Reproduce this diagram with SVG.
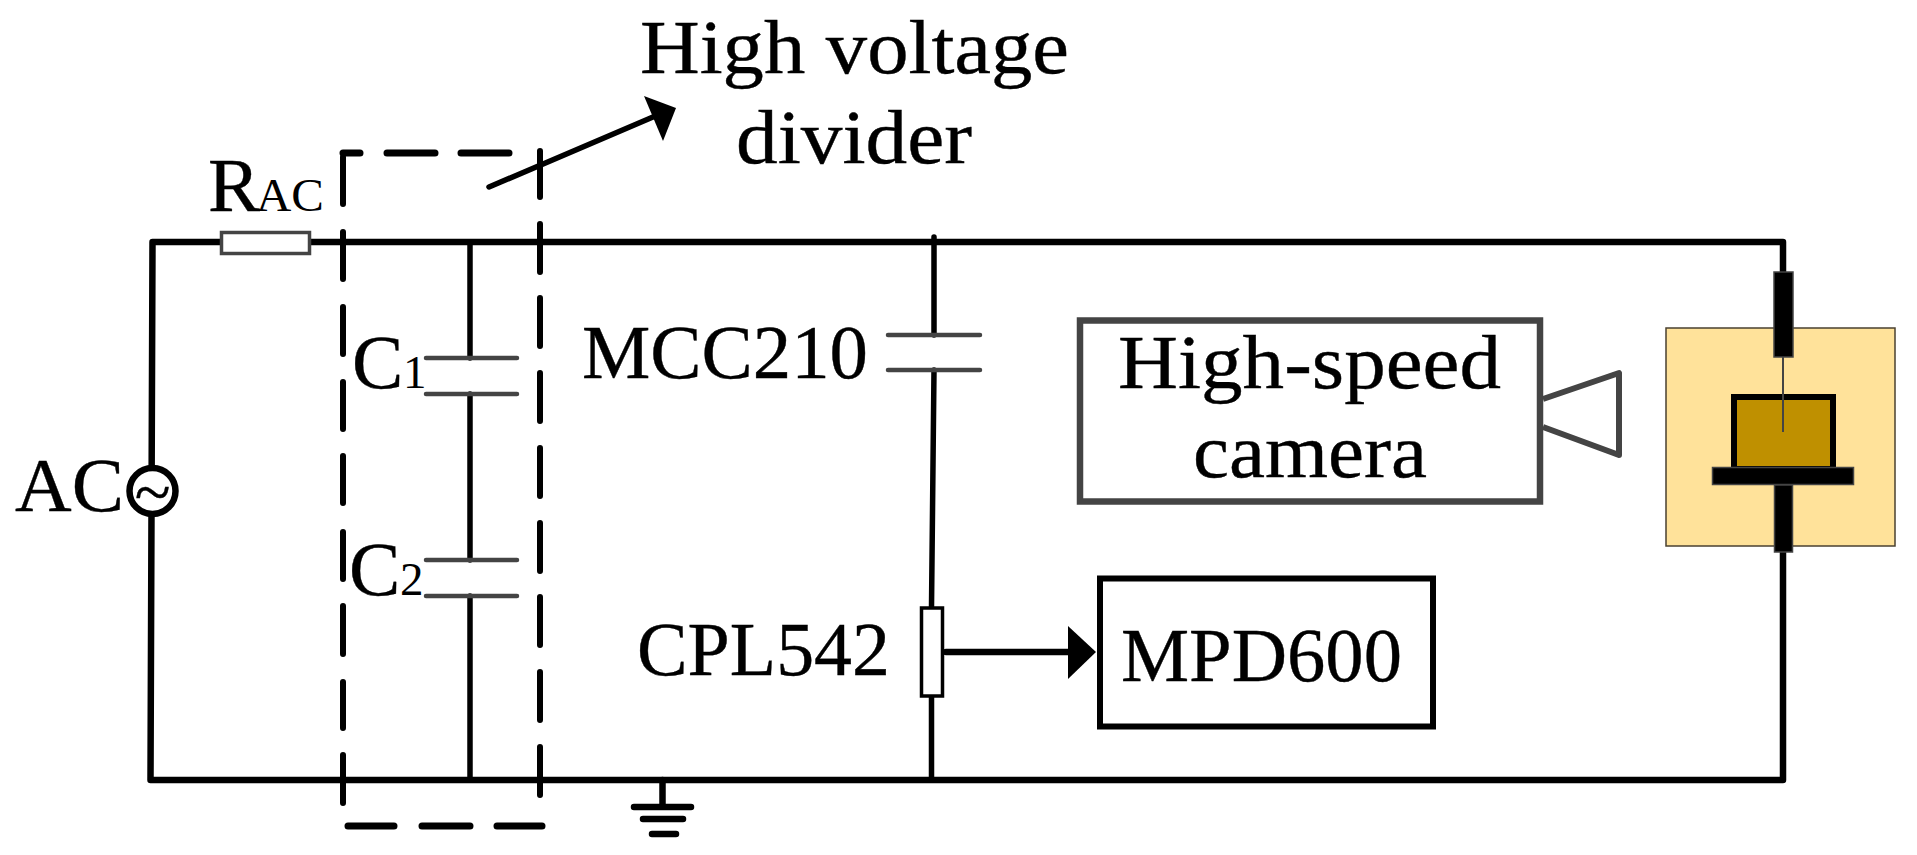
<svg xmlns="http://www.w3.org/2000/svg" width="1917" height="855" viewBox="0 0 1917 855">
<style>
text{font-family:"Liberation Serif","Times New Roman",serif;fill:#000;stroke:#000;stroke-width:.4;font-size:77px}
.w{fill:none;stroke:#000;stroke-width:6.5;stroke-linecap:round;stroke-linejoin:round}
.t{fill:none;stroke:#000;stroke-width:5.5;stroke-linecap:round}
.d{fill:none;stroke:#000;stroke-width:6;stroke-linecap:round}
.h{fill:none;stroke:#000;stroke-width:7;stroke-linecap:round}
.p{fill:none;stroke:#444;stroke-width:4.5;stroke-linecap:round}
.s{font-size:47px;stroke-width:0}
.b{fill:#000;stroke:#444;stroke-width:1.5}
</style>
<rect width="1917" height="855" fill="#fff"/>
<g id="connectors">
<path class="w" d="M220 242H152.500L150.500 780H1783V552"/>
<path class="w" d="M310 242H1783V272"/>
<path class="t" d="M470 242V358M470 394V560M470 596V780"/>
<path class="t" d="M934 237V335M934 370L931.500 607M931.500 697V780"/>
<path class="w" d="M946 652H1070"/>
<polygon points="1068,626 1096,652 1068,679" fill="#000"/>
<path class="t" d="M489 187L660 114"/>
<polygon points="644,96 676,108 663,141" fill="#000"/>
</g>
<g id="divider-box">
<path class="d" d="M343 157V204M343 232V279M343 307V354M343 382V429M343 456V503M343 532V579M343 606V654M343 682V728M343 755V803"/>
<path class="d" d="M540 151V197M540 224V272M540 298V346M540 373V421M540 448V496M540 523V571M540 597V645M540 672V720M540 747V795"/>
<path class="h" d="M343 153H360M387 153H435M461 153H509"/>
<path class="h" d="M348 826H394M422 826H470M497 826H542"/>
</g>
<g id="rac">
<rect x="221.500" y="232.500" width="88" height="21" fill="#fff" stroke="#444" stroke-width="3.500"/>
<text x="208" y="211" textLength="52" lengthAdjust="spacingAndGlyphs">R</text>
<text class="s" x="256" y="211" textLength="68" lengthAdjust="spacingAndGlyphs">AC</text>
</g>
<g id="ac-source">
<circle cx="152.500" cy="491" r="23" fill="#fff" stroke="#000" stroke-width="6.500"/>
<text x="152.500" y="514" text-anchor="middle" style="font-size:66px">~</text>
<text x="15" y="511" textLength="109" lengthAdjust="spacingAndGlyphs">AC</text>
</g>
<g id="c1">
<path class="p" d="M426 358H517M426 394H517"/>
<text x="352" y="388">C</text>
<text class="s" x="403" y="388">1</text>
</g>
<g id="c2">
<path class="p" d="M426 560H517M426 596H517"/>
<text x="349" y="595">C</text>
<text class="s" x="400" y="595">2</text>
</g>
<g id="mcc210">
<path class="p" d="M888 335H980M888 370H980"/>
<text x="582" y="378" textLength="286" lengthAdjust="spacingAndGlyphs">MCC210</text>
</g>
<g id="cpl542">
<rect x="921.500" y="608" width="21" height="88" fill="#fff" stroke="#000" stroke-width="3.500"/>
<text x="637" y="675" textLength="253" lengthAdjust="spacingAndGlyphs">CPL542</text>
</g>
<g id="mpd600">
<rect x="1100" y="578.500" width="333" height="148" fill="none" stroke="#000" stroke-width="6"/>
<text x="1121" y="681" textLength="281" lengthAdjust="spacingAndGlyphs">MPD600</text>
</g>
<g id="camera">
<rect x="1080" y="320.500" width="460" height="181" fill="none" stroke="#444" stroke-width="6.500"/>
<path d="M1543 399L1619 373V455L1543 427" fill="none" stroke="#444" stroke-width="6" stroke-linejoin="round"/>
<text x="1118" y="388" textLength="383" lengthAdjust="spacingAndGlyphs">High-speed</text>
<text x="1193" y="477" textLength="234" lengthAdjust="spacingAndGlyphs">camera</text>
</g>
<g id="test-cell">
<rect x="1666" y="328" width="229" height="218" fill="#FFE29A" stroke="#4a4030" stroke-width="1.500"/>
<rect class="b" x="1774" y="272" width="19" height="85"/>
<rect x="1734" y="397" width="99" height="72" fill="#BF9000" stroke="#000" stroke-width="6"/>
<path d="M1783 357V432" stroke="#444" stroke-width="2" fill="none"/>
<rect class="b" x="1712.500" y="467.500" width="141" height="17"/>
<rect class="b" x="1774.500" y="485" width="18" height="67"/>
</g>
<g id="ground">
<path class="w" d="M662.500 780V807M634 807H691M643 819H683M652 834H676"/>
</g>
<g id="divider-label">
<text x="640" y="73" textLength="429" lengthAdjust="spacingAndGlyphs">High voltage</text>
<text x="736" y="163" textLength="236" lengthAdjust="spacingAndGlyphs">divider</text>
</g>
</svg>
